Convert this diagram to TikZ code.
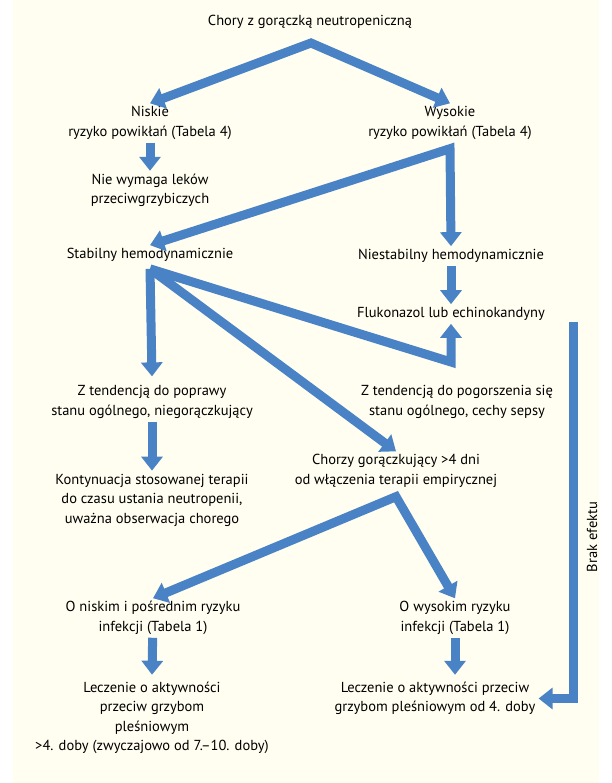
\documentclass[tikz,border=0pt]{standalone}
\usepackage{fontspec}
\setmainfont{PT Sans}
\usepackage{tikz}
\usetikzlibrary{positioning, arrows.meta}
\definecolor{flowblue}{HTML}{4A83C5}
\definecolor{paper}{HTML}{FFFEF0}
\tikzset{
    txt/.style={align=center, inner sep=3pt, font=\fontsize{14.5}{19.5}\selectfont},
    tipb/.tip={Triangle[length=14pt, width=21pt]},
    arr/.style={draw=flowblue, line width=9pt, -tipb, line join=miter},
    dbl/.style={draw=flowblue, line width=9pt, tipb-tipb, line join=miter}
}

\begin{document}
\begin{tikzpicture}[x=1pt, y=-1pt]
    % Page and background
    \useasboundingbox (0,0) rectangle (611,783);
    \fill[paper] (13,0) rectangle (599,783);

    % Nodes
    \node[txt] (title) at (310,22) {Chory z gorączką neutropeniczną};
    \node[txt] (low) at (150,123) {Niskie\\ryzyko powikłań (Tabela 4)};
    \node[txt] (high) at (450,123) {Wysokie\\ryzyko powikłań (Tabela 4)};
    \node[txt] (noaf) at (150,190.5) {Nie wymaga leków\\przeciwgrzybiczych};
    \node[txt] (stab) at (150,255) {Stabilny hemodynamicznie};
    \node[txt] (unstab) at (451,256) {Niestabilny hemodynamicznie};
    \node[txt] (fluko) at (451,314) {Flukonazol lub echinokandyny};
    \node[txt] (better) at (152,402) {Z tendencją do poprawy\\stanu ogólnego, niegorączkujący};
    \node[txt] (worse) at (457,402) {Z tendencją do pogorszenia się\\stanu ogólnego, cechy sepsy};
    \node[txt] (cont) at (152,500) {Kontynuacja stosowanej terapii\\do czasu ustania neutropenii,\\uważna obserwacja chorego};
    \node[txt] (fever) at (396,471) {Chorzy gorączkujący >4 dni\\od włączenia terapii empirycznej};
    \node[txt] (lowinf) at (153,618) {O niskim i pośrednim ryzyku\\infekcji (Tabela 1)};
    \node[txt] (highinf) at (455,618) {O wysokim ryzyku\\infekcji (Tabela 1)};
    \node[txt] (treatlow) at (152,718) {Leczenie o aktywności\\przeciw grzybom\\pleśniowym\\>4. doby (zwyczajowo od 7.--10. doby)};
    \node[txt] (treathigh) at (435,698.5) {Leczenie o aktywności przeciw\\grzybom pleśniowym od 4. doby};
    \node[txt, rotate=90] (brak) at (592,537) {Brak efektu};

    % Corners of the arrows
    \coordinate (tc) at (311,43);
    \coordinate (hc) at ([yshift=-6pt]high.south);
    \coordinate (sc) at ([yshift=-4pt]stab.south);
    \coordinate (bc) at (451,362);
    \coordinate (fc) at ([yshift=-6pt]fever.south);
    \coordinate (nofx) at (573,322);

    % Arrows
    \draw[dbl] (low.north) -- (tc) -- (high.north);
    \draw[arr] (low) -- (noaf);
    \draw[dbl] (stab.north) -- (hc) -- (unstab.north);
    \draw[arr] (unstab) -- (fluko);
    \draw[arr] (sc) -- ([yshift=6pt]better.north);
    \draw[arr] (sc) -- (fever.north);
    \draw[arr] (sc) -- (bc) -- (fluko.south);
    \draw[arr] (better) -- (cont);
    \draw[dbl] (lowinf.north) -- (fc) -- (highinf.north);
    \draw[arr] (lowinf) -- ([yshift=4pt]treatlow.north);
    \draw[arr] (highinf.south) -- ([yshift=4pt]highinf.south |- treathigh.north);
    \draw[arr] (nofx) -- (nofx |- treathigh) -- (treathigh.east);
\end{tikzpicture}
\end{document}
